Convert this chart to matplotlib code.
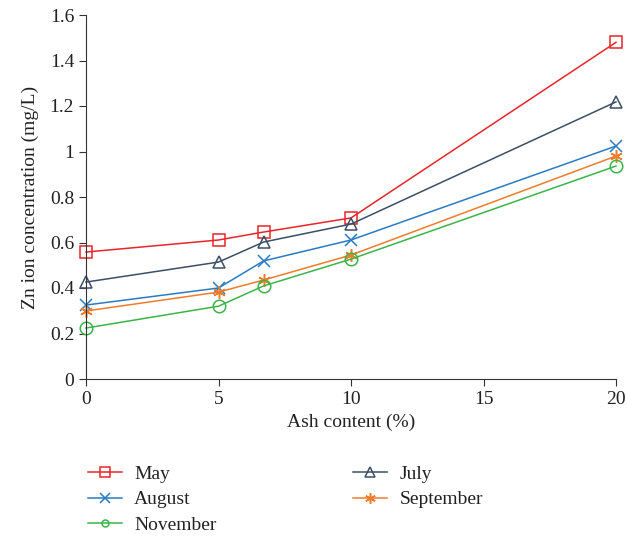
import matplotlib
matplotlib.use("Agg")
from matplotlib import pyplot as plt

plt.rcParams['font.family'] = ['Liberation Serif', 'DejaVu Serif']

ash = [0, 5, 6.7, 10, 20]
may = [0.558, 0.611, 0.646, 0.708, 1.48]
july = [0.426, 0.514, 0.602, 0.681, 1.218]
august = [0.325, 0.40, 0.519, 0.611, 1.024]
september = [0.299, 0.382, 0.435, 0.545, 0.98]
november = [0.224, 0.32, 0.409, 0.527, 0.936]

fig = plt.figure(figsize=(6.27, 5.37), dpi=100)
ax = fig.add_axes([86/627, 1 - 379/537, (616 - 86)/627, (379 - 15)/537])

style = dict(lw=1.1, ms=9, mew=1.1, clip_on=False)
l_may, = ax.plot(ash, may, color='#e8262a', marker='s', mfc='none', label='May', **style)
l_jul, = ax.plot(ash, july, color='#3b4f66', marker='^', mfc='none', label='July', **style)
l_aug, = ax.plot(ash, august, color='#2a7bc4', marker='x', label='August', **style)
l_sep, = ax.plot(ash, september, color='#f07c2b', marker=(6, 2, 0), label='September', **style)
l_nov, = ax.plot(ash, november, color='#3cb44a', marker='o', mfc='none', label='November', **style)

ax.set_xlim(0, 20)
ax.set_ylim(0, 1.6)
ax.set_xticks([0, 5, 10, 15, 20])
ax.set_yticks([0, 0.2, 0.4, 0.6, 0.8, 1.0, 1.2, 1.4, 1.6])
ax.set_yticklabels(['0', '0.2', '0.4', '0.6', '0.8', '1', '1.2', '1.4', '1.6'])
ax.spines['top'].set_visible(False)
ax.spines['right'].set_visible(False)
for s in ['left', 'bottom']:
    ax.spines[s].set_color('#333333')
ax.tick_params(direction='out', length=5, color='#333333', labelsize=14, labelcolor='#222222')
ax.set_xlabel('Ash content (%)', fontsize=14, color='#222222', labelpad=4)
ax.set_ylabel('Zn ion concentration (mg/L)', fontsize=14, color='#222222', labelpad=8)

leg = fig.legend(handles=[l_may, l_aug, l_nov, l_jul, l_sep],
                 labels=['May', 'August', 'November', 'July', 'September'],
                 ncol=2, loc='upper left', bbox_to_anchor=(70/627, 1 - 448/537),
                 frameon=False, fontsize=14, handlelength=1.75, handletextpad=0.65,
                 columnspacing=7, labelspacing=0.4, markerscale=0.85)
for t in leg.get_texts():
    t.set_color('#222222')
# small circle for November in the legend
leg.legend_handles[2].set_markersize(5)

fig.savefig('out.png', dpi=100)
